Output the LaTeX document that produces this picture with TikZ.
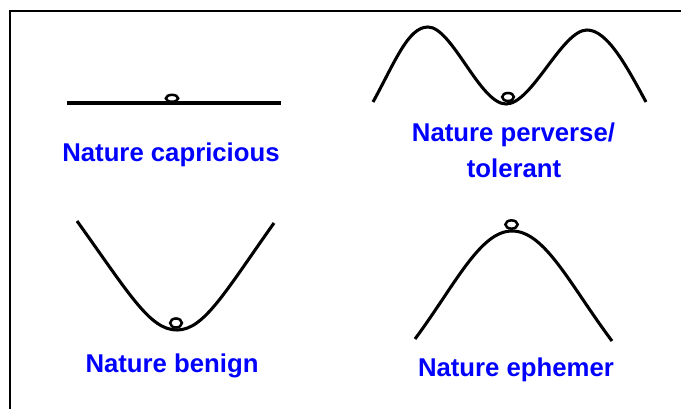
\documentclass[tikz,border=0pt]{standalone}
\usepackage{fontspec}
\setmainfont{Liberation Sans}
\begin{document}
\begin{tikzpicture}[x=0.75pt, y=-0.75pt,
    landscape/.style={line width=2.3pt},
    ball/.style={line width=1.9pt, fill=white},
    natlabel/.style={blue, anchor=base, inner sep=0pt,
        font=\fontsize{19.3}{23}\selectfont\bfseries}]
    \useasboundingbox (0,0) rectangle (681,409);
    % frame (only top and left edge visible)
    \draw[line width=1.1pt] (10,409) -- (10,11) -- (681,11);

    % capricious: flat ground
    \draw[line width=3pt] (67,103) -- (281,103);
    \draw[ball] (172,98.3) ellipse (4.6pt and 2.6pt);
    \node[natlabel] (capr) at (171,161.7) {Nature capricious};

    % perverse/tolerant: valley between two hills
    \draw[landscape] (373,102) .. controls (395,62) and (408,27) .. (428,27)
        .. controls (452,27) and (480,104) .. (506,104)
        .. controls (532,104) and (562,30) .. (587,30)
        .. controls (607,30) and (626,65) .. (646,102);
    \draw[ball] (508,97) ellipse (4.4pt and 3pt);
    \node[natlabel] (perv) at (513.5,141.7) {Nature perverse/};
    \node[natlabel] (tol) at (514,178) {tolerant};

    % benign: bowl
    \draw[landscape] (77,221) .. controls (130,295) and (150,330) .. (177,330)
        .. controls (204,330) and (225,292) .. (274,223);
    \draw[ball] (176,323) ellipse (4.4pt and 3.4pt);
    \node[natlabel] (beni) at (172,372) {Nature benign};

    % ephemer: hilltop
    \draw[landscape] (415,339) .. controls (455,285) and (480,231) .. (512,231)
        .. controls (545,231) and (570,285) .. (612,341);
    \draw[ball] (511.5,224.5) ellipse (4.6pt and 3.1pt);
    \node[natlabel] (ephe) at (516,376) {Nature ephemer};
\end{tikzpicture}
\end{document}
